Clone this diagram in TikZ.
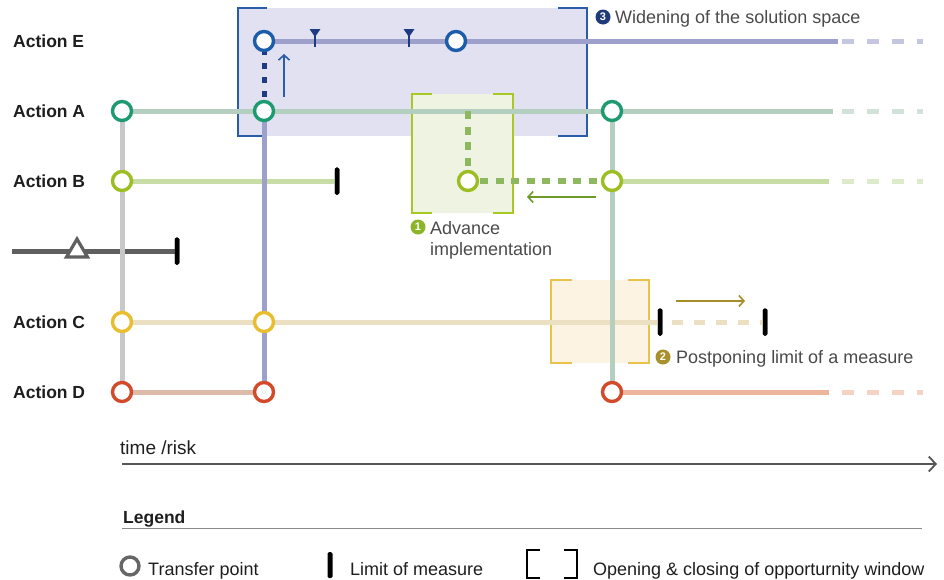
\documentclass[tikz,border=0pt]{standalone}
\usepackage{fontspec}
\setmainfont{Liberation Sans}
\usetikzlibrary{arrows.meta}
\definecolor{lavline}{HTML}{9EA0CC}
\definecolor{ecirc}{HTML}{1C5CA8}
\definecolor{navydot}{HTML}{1E3A80}
\definecolor{sage}{HTML}{B4CEBF}
\definecolor{acirc}{HTML}{1E9A70}
\definecolor{bline}{HTML}{C8DDA6}
\definecolor{bcirc}{HTML}{9CBE22}
\definecolor{gdot}{HTML}{8EB860}
\definecolor{vgray}{HTML}{C8C8C8}
\definecolor{dgray}{HTML}{5F5F5F}
\definecolor{cline}{HTML}{EBE1C2}
\definecolor{ccirc}{HTML}{E8BE2E}
\definecolor{dlineL}{HTML}{DEBBA8}
\definecolor{dlineR}{HTML}{EDB59D}
\definecolor{dcirc}{HTML}{D24A2A}
\definecolor{bluefill}{HTML}{E1E1F1}
\definecolor{bluebr}{HTML}{2A5CAA}
\definecolor{greenfill}{HTML}{EFF4E2}
\definecolor{greenbr}{HTML}{A8C826}
\definecolor{yelfill}{HTML}{FDF3E2}
\definecolor{yelbr}{HTML}{E9C24A}
\definecolor{garrow}{HTML}{6F9A2A}
\definecolor{goldarrow}{HTML}{A58E28}
\definecolor{numone}{HTML}{8DB52A}
\definecolor{numtwo}{HTML}{A8902A}
\definecolor{numthree}{HTML}{1F3A7A}
\definecolor{notec}{HTML}{4A4A4A}
\definecolor{labelc}{HTML}{1E1E1E}
\definecolor{axisc}{HTML}{555555}
\definecolor{legline}{HTML}{8A8A8A}
\definecolor{legc}{HTML}{666666}
\begin{document}
\begin{tikzpicture}[x=1pt,y=-1pt,
  tp/.style={circle, draw=#1, line width=3.4pt, fill=white, minimum size=19pt, inner sep=0pt},
  limitbar/.style={fill=black, rounded corners=1.5pt, minimum width=4.5pt, minimum height=27pt, inner sep=0pt},
  track/.style={line width=5pt, draw=#1},
  tail/.style={line width=5pt, draw=#1, opacity=0.6, dash pattern=on 12pt off 13pt},
  win/.style={inner sep=0pt, fill=#1, draw=none},
  bracket/.style={draw=#1, line width=2pt},
  lbl/.style={font=\bfseries\fontsize{17.5}{20}\selectfont, text=labelc, anchor=base west, inner sep=0pt},
  note/.style={font=\fontsize{18}{22}\selectfont, text=notec, anchor=base west, inner sep=0pt},
  legtext/.style={font=\fontsize{18}{22}\selectfont, text=labelc, anchor=base west, inner sep=0pt},
  num/.style={circle, fill=#1, text=white, font=\bfseries\fontsize{11}{11}\selectfont, minimum size=15pt, inner sep=0pt},
  thinarrow/.style={draw=#1, line width=1.6pt, -{Straight Barb[length=5pt,width=11pt]}}
]
\useasboundingbox (0,0) rectangle (944,579);

% coordinates
\coordinate (E1) at (264,41); \coordinate (E2) at (456,41); \coordinate (Eend) at (838,41);
\coordinate (A1) at (122,111); \coordinate (A2) at (264,111); \coordinate (A3) at (612,111); \coordinate (Aend) at (833,111);
\coordinate (Ajoin) at (468,111);
\coordinate (B1) at (122,181); \coordinate (B2) at (468,181); \coordinate (B3) at (612,181); \coordinate (Bend) at (829,181);
\coordinate (G0) at (12,251); \coordinate (Gtri) at (77,251);
\coordinate (C1) at (122,322); \coordinate (C2) at (264,322);
\coordinate (D1) at (122,392); \coordinate (D2) at (264,392); \coordinate (D3) at (612,392); \coordinate (Dend) at (829,392);

% opportunity windows
\node[win=bluefill, minimum width=349pt, minimum height=128pt] (winE) at (412.5,72) {};
\draw[bracket=bluebr] ([xshift=29pt]winE.north west) -- (winE.north west) -- (winE.south west) -- ([xshift=29pt]winE.south west);
\draw[bracket=bluebr] ([xshift=-29pt]winE.north east) -- (winE.north east) -- (winE.south east) -- ([xshift=-29pt]winE.south east);
\node[win=greenfill, minimum width=101pt, minimum height=119pt] (winB) at (462.5,153.5) {};
\draw[bracket=greenbr] ([xshift=20pt]winB.north west) -- (winB.north west) -- (winB.south west) -- ([xshift=20pt]winB.south west);
\draw[bracket=greenbr] ([xshift=-20pt]winB.north east) -- (winB.north east) -- (winB.south east) -- ([xshift=-20pt]winB.south east);
\node[win=yelfill, minimum width=98pt, minimum height=83pt] (winC) at (600,321.5) {};
\draw[bracket=yelbr] ([xshift=21pt]winC.north west) -- (winC.north west) -- (winC.south west) -- ([xshift=21pt]winC.south west);
\draw[bracket=yelbr] ([xshift=-21pt]winC.north east) -- (winC.north east) -- (winC.south east) -- ([xshift=-21pt]winC.south east);

% limit bars
\node[limitbar] (Blim) at (337,181) {};
\node[limitbar] (Glim) at (177,251) {};
\node[limitbar] (Clim1) at (660,322) {};
\node[limitbar] (Clim2) at (765,322) {};

% horizontal tracks
\draw[track=lavline] (E1) -- (Eend);
\draw[tail=lavline] ([xshift=4pt]Eend) -- ++(81,0);
\draw[track=sage] (A1) -- (Aend);
\draw[tail=sage] ([xshift=9pt]Aend) -- ++(81,0);
\draw[track=bline] (B1) -- (Blim.center);
\draw[track=bline] (B3) -- (Bend);
\draw[tail=bline] ([xshift=13pt]Bend) -- ++(81,0);
\draw[track=dgray] (G0) -- (Glim.center);
\draw[track=cline] (C1) -- (Clim1.center);
\draw[line width=5pt, draw=cline, dash pattern=on 11pt off 11pt] ([xshift=12pt]Clim1.center) -- (Clim2.center);
\draw[track=dlineL] (D1) -- (D2);
\draw[track=dlineR] (D3) -- (Dend);
\draw[tail=dlineR] ([xshift=13pt]Dend) -- ++(81,0);

% vertical tracks
\draw[track=vgray] (A1) -- (D1);
\draw[track=lavline] (A2) -- (D2);
\draw[track=sage] (A3) -- (D3);

% dotted transfers
\draw[line width=5pt, draw=navydot, dash pattern=on 6.5pt off 7.5pt] (A2) -- (E1);
\draw[line width=6pt, draw=gdot, dash pattern=on 8pt off 7.5pt] (B2) -- (Ajoin);
\draw[line width=6pt, draw=gdot, dash pattern=on 8pt off 7.5pt] ([xshift=12pt]B2) -- (B3);

% limit bars on top
\node[limitbar] at (Blim) {};
\node[limitbar] at (Glim) {};
\node[limitbar] at (Clim1) {};
\node[limitbar] at (Clim2) {};

% triangle on gray line (apex up)
\draw[draw=dgray, fill=white, line width=3.2pt, line join=miter] ([yshift=12pt]Gtri) -- ([xshift=-10.5pt,yshift=-6pt]Gtri) -- ([xshift=10.5pt,yshift=-6pt]Gtri) -- cycle;

% flag markers on E
\foreach \fx in {315,409} {
  \fill[navydot] (\fx-5.5,29) -- (\fx+5.5,29) -- (\fx,37) -- cycle;
  \draw[navydot, line width=2pt] (\fx,33) -- (\fx,47);
}

% transfer points
\node[tp=ecirc] (cE1) at (E1) {};
\node[tp=ecirc] (cE2) at (E2) {};
\node[tp=acirc] (cA1) at (A1) {};
\node[tp=acirc] (cA2) at (A2) {};
\node[tp=acirc] (cA3) at (A3) {};
\node[tp=bcirc] (cB1) at (B1) {};
\node[tp=bcirc] (cB2) at (B2) {};
\node[tp=bcirc] (cB3) at (B3) {};
\node[tp=ccirc] (cC1) at (C1) {};
\node[tp=ccirc] (cC2) at (C2) {};
\node[tp=dcirc] (cD1) at (D1) {};
\node[tp=dcirc] (cD2) at (D2) {};
\node[tp=dcirc] (cD3) at (D3) {};

% movement arrows
\coordinate (ua0) at (284,97); \coordinate (ua1) at (284,54);
\draw[thinarrow=bluebr] (ua0) -- (ua1);
\coordinate (ga0) at (596,197); \coordinate (ga1) at (527,197);
\draw[thinarrow=garrow] (ga0) -- (ga1);
\coordinate (oa0) at (676,301); \coordinate (oa1) at (745,301);
\draw[thinarrow=goldarrow] (oa0) -- (oa1);

% labels
\node[lbl] (lE) at (13,47.5) {Action E};
\node[lbl] (lA) at (13,117.5) {Action A};
\node[lbl] (lB) at (13,187.5) {Action B};
\node[lbl] (lC) at (13,328.5) {Action C};
\node[lbl] (lD) at (13,398.5) {Action D};

% annotations
\node[num=numthree] (n3) at (603,17) {3};
\node[note] (t3) at (615,23.5) {Widening of the solution space};
\node[num=numone] (n1) at (418,227) {1};
\node[note] (t1a) at (430,234.5) {Advance};
\node[note] (t1b) at (430,255.5) {implementation};
\node[num=numtwo] (n2) at (663,357) {2};
\node[note] (t2) at (676,363.5) {Postponing limit of a measure};

% time axis
\coordinate (ax0) at (122,464); \coordinate (ax1) at (937,464);
\draw[draw=axisc, line width=1.8pt, -{Straight Barb[length=7pt,width=15pt]}] (ax0) -- (ax1);
\node[note, font=\fontsize{19}{22}\selectfont, text=labelc] (tax) at (120,454) {time /risk};

% legend
\node[legtext, font=\bfseries\fontsize{17.5}{20}\selectfont] (lg) at (123,523) {Legend};
\coordinate (lg0) at (122,528.5); \coordinate (lg1) at (922,528.5);
\draw[draw=legline, line width=1.5pt] (lg0) -- (lg1);
\node[tp=legc, minimum size=18pt] (lgc) at (130,566) {};
\node[legtext] (lgt1) at (148,575) {Transfer point};
\node[limitbar, minimum height=26pt, minimum width=5pt] (lgl) at (330,565) {};
\node[legtext] (lgt2) at (350,575) {Limit of measure};
\coordinate (lbL) at (527,564); \coordinate (lbR) at (577,564);
\draw[draw=black, line width=2.2pt] ([xshift=13pt,yshift=14pt]lbL) -- ([yshift=14pt]lbL) -- ([yshift=-14pt]lbL) -- ([xshift=13pt,yshift=-14pt]lbL);
\draw[draw=black, line width=2.2pt] ([xshift=-13pt,yshift=14pt]lbR) -- ([yshift=14pt]lbR) -- ([yshift=-14pt]lbR) -- ([xshift=-13pt,yshift=-14pt]lbR);
\node[legtext] (lgt3) at (593,575) {Opening \& closing of opporturnity window};
\end{tikzpicture}
\end{document}
